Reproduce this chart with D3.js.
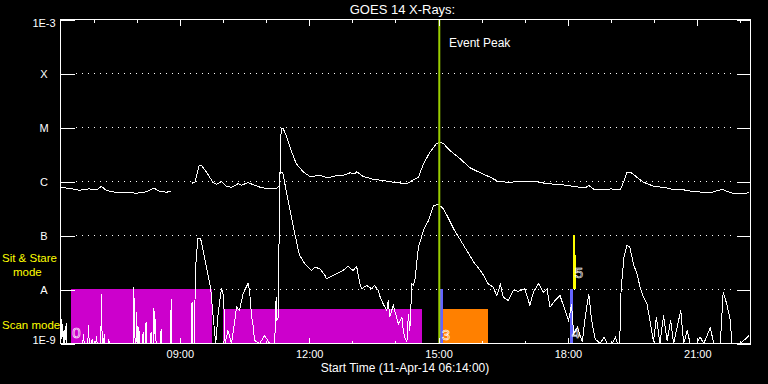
<!DOCTYPE html>
<html><head><meta charset="utf-8">
<script src="https://cdn.jsdelivr.net/npm/d3@7"></script>
<style>html,body{margin:0;padding:0;background:#000;}svg{display:block}</style>
</head><body>
<svg id="c" width="768" height="384"></svg>
<script>
// ---------- data ----------
const dateStr = "2014-04-11";
const startTime = "06:14", endTime = "22:14";
const eventPeakTime = "15:01";
const yTickValues = [1e-9, 1e-8, 1e-7, 1e-6, 1e-5, 1e-4, 1e-3];
const yTickLabels = ["1E-9", "A", "B", "C", "M", "X", "1E-3"];
const xLabelTimes = ["09:00", "12:00", "15:00", "18:00", "21:00"];

// GOES 14 long channel (1-8 A), W/m^2
const goesLong = [
 ["06:14",7.7e-7],["06:26",7.5e-7],["06:40",6.9e-7],["06:54",7.3e-7],["07:04",7.0e-7],["07:11",8.1e-7],
 ["07:18",6.8e-7],["07:32",6.25e-7],["07:46",6.25e-7],["08:00",6.07e-7],["08:13",6.44e-7],["08:24",7.5e-7],
 ["08:32",6.6e-7],["08:41",6.34e-7],["08:48",6.53e-7],["09:00",null],
 ["09:17",9.3e-7],["09:21",9.7e-7],["09:27",1.98e-6],["09:30",1.98e-6],["09:37",1.49e-6],["09:46",9.7e-7],
 ["09:51",8.8e-7],["09:58",1.0e-6],["10:05",8.1e-7],["10:12",7.8e-7],["10:21",9.1e-7],["10:26",8.5e-7],
 ["10:35",9.6e-7],["10:42",8.7e-7],["10:51",7.9e-7],["11:03",7.3e-7],["11:15",7.5e-7],["11:19",8.4e-7],
 ["11:21",9.46e-6],["11:24",9.46e-6],["11:28",7.1e-6],["11:35",3.75e-6],["11:42",2.13e-6],["11:52",1.49e-6],
 ["12:01",1.24e-6],["12:15",1.29e-6],["12:26",1.17e-6],["12:38",1.29e-6],["12:47",1.29e-6],["12:57",1.45e-6],
 ["13:04",1.39e-6],["13:06",1.53e-6],["13:15",1.24e-6],["13:29",1.10e-6],["13:43",1.04e-6],["13:57",9.7e-7],
 ["14:16",9.1e-7],["14:25",1.07e-6],["14:32",1.20e-6],["14:39",2.13e-6],["14:48",3.49e-6],["14:57",4.99e-6],
 ["15:02",5.34e-6],["15:07",4.99e-6],["15:16",3.75e-6],["15:30",2.63e-6],["15:44",1.79e-6],["15:58",1.45e-6],
 ["16:12",1.20e-6],["16:23",1.0e-6],["16:40",9.6e-7],["16:49",1.01e-6],["17:03",9.9e-7],["17:17",9.9e-7],
 ["17:31",9.1e-7],["17:49",8.8e-7],["18:08",8.1e-7],["18:24",7.6e-7],["18:29",8.4e-7],["18:36",7.2e-7],
 ["18:54",7.0e-7],["18:59",7.3e-7],["19:13",7.0e-7],["19:20",1.20e-6],["19:22",1.49e-6],["19:27",1.49e-6],
 ["19:36",1.20e-6],["19:45",9.7e-7],["19:59",8.2e-7],["20:18",7.6e-7],["20:25",7.2e-7],["20:41",7.0e-7],
 ["20:55",6.5e-7],["21:18",6.2e-7],["21:35",7.2e-7],["21:41",6.6e-7],["21:51",5.9e-7],["22:07",5.9e-7],
 ["22:12",6.4e-7]
];

// GOES 14 short channel (0.5-4 A), W/m^2
const goesShort = [
 ["06:14",1.5e-9],["06:15",2.9e-9],["06:16",1.2e-9],["06:17",2.3e-9],["06:18",1e-9],["06:19",1.8e-9],["06:20",1e-9],
 ["06:22",2.4e-9],["06:23",1e-9],["06:45",1e-9],["06:46",1.5e-9],["06:47",1e-9],["06:52",1e-9],["06:53",2.2e-9],
 ["06:54",1e-9],["06:57",1e-9],["06:58",1.2e-9],["06:59",1e-9],["07:03",1e-9],["07:04",1.35e-9],["07:05",1e-9],
 ["07:10",1e-9],["07:11",8.2e-9],["07:12",1e-9],["07:14",1e-9],["07:15",1.5e-9],["07:16",1e-9],["07:20",1e-9],
 ["07:21",1.2e-9],["07:22",1e-9],["07:55",1e-9],["07:56",1.12e-8],["07:57",2e-9],["07:58",1e-9],["07:59",1e-9],
 ["08:00",3.75e-9],["08:01",1e-9],["08:02",1e-9],["08:03",2e-9],["08:04",1e-9],["08:08",1e-9],["08:09",1.65e-9],
 ["08:10",1e-9],["08:12",1e-9],["08:13",2.45e-9],["08:14",1e-9],["08:19",1e-9],["08:20",1.65e-9],["08:21",1e-9],
 ["08:23",1e-9],["08:24",4.45e-9],["08:25",1.5e-9],["08:26",2.8e-9],["08:27",1e-9],["08:33",1e-9],["08:34",1.84e-9],
 ["08:35",1e-9],["08:47",1e-9],["08:48",6.6e-9],["08:49",1e-9],["09:00",null],
 ["09:16",1e-9],["09:17",5.9e-9],["09:18",1e-9],["09:20",1e-9],["09:22",2.6e-8],["09:25",8.7e-8],["09:29",8.7e-8],
 ["09:32",5.7e-8],["09:37",2.6e-8],["09:43",1.03e-8],["09:46",3.55e-9],["09:50",1e-9],["09:53",3.3e-9],["09:58",1.07e-8],
 ["10:01",7.2e-9],["10:03",1e-9],["10:07",1.74e-9],["10:12",1e-9],["10:19",4.7e-9],["10:23",4.1e-9],["10:28",8.3e-9],
 ["10:35",1.31e-8],["10:37",9.6e-9],["10:40",3.07e-9],["10:42",2.15e-9],["10:44",1.14e-9],["10:51",1e-9],["10:58",1.4e-9],
 ["11:05",1e-9],["11:12",1e-9],["11:14",7.2e-9],["11:15",2.66e-9],["11:17",3.0e-9],["11:19",1.49e-6],["11:23",1.49e-6],
 ["11:28",6.8e-7],["11:38",1.43e-7],["11:45",5.3e-8],["11:47",4.26e-8],["11:54",2.99e-8],["12:03",2.25e-8],["12:08",2.59e-8],
 ["12:15",2.42e-8],["12:22",1.82e-8],["12:24",1.58e-8],["12:33",1.82e-8],["12:38",1.95e-8],["12:47",2.25e-8],["12:54",2.67e-8],
 ["13:01",2.25e-8],["13:06",2.67e-8],["13:11",1.19e-8],["13:13",1.03e-8],["13:20",1.19e-8],["13:27",1.03e-8],["13:31",1.19e-8],
 ["13:36",9.6e-9],["13:38",7.7e-9],["13:43",5.4e-9],["13:48",4.1e-9],["13:50",6.25e-9],["13:52",3.07e-9],["13:57",5.1e-9],
 ["13:59",4.1e-9],["14:04",2.3e-9],["14:09",3.07e-9],["14:11",1.74e-9],["14:13",1.31e-9],["14:16",1.06e-9],["14:18",3.55e-9],
 ["14:20",1.74e-9],["14:23",1.28e-8],["14:25",1.19e-8],["14:27",1.47e-8],["14:32",6.07e-8],["14:39",1.24e-7],["14:46",1.9e-7],
 ["14:53",3.6e-7],["15:00",3.75e-7],["15:07",3.12e-7],["15:21",1.33e-7],["15:35",6.53e-8],["15:49",3.2e-8],["16:00",2.09e-8],
 ["16:09",1.28e-8],["16:16",1.1e-8],["16:21",7.7e-9],["16:26",1.24e-8],["16:30",7.2e-9],["16:37",6.25e-9],["16:44",9.6e-9],
 ["16:51",9.3e-9],["17:00",1.03e-8],["17:07",5.1e-9],["17:12",8.9e-9],["17:19",1.28e-8],["17:26",8.9e-9],["17:31",1.03e-8],
 ["17:35",4.7e-9],["17:42",6.25e-9],["17:49",7.7e-9],["17:56",4.1e-9],["18:01",2.67e-9],["18:05",5.4e-9],["18:08",1.51e-9],
 ["18:13",2.0e-9],["18:20",1.06e-9],["18:24",3.07e-9],["18:29",8.3e-9],["18:33",2.67e-9],["18:38",1.2e-9],["18:45",1e-9],
 ["18:50",1.31e-9],["18:55",1e-9],["19:02",1e-9],["19:06",1.31e-9],["19:09",1e-9],["19:12",1e-9],["19:14",1.03e-8],
 ["19:18",3.96e-8],["19:22",6.53e-8],["19:26",6.25e-8],["19:31",2.99e-8],["19:36",1.95e-8],["19:41",1.03e-8],["19:45",7.2e-9],
 ["19:50",5.4e-9],["19:55",2.3e-9],["19:59",1.06e-9],["20:03",3.07e-9],["20:08",1e-9],["20:13",3.3e-9],["20:18",1.14e-9],
 ["20:23",2.67e-9],["20:27",1e-9],["20:37",4.1e-9],["20:41",1e-9],["20:46",1.74e-9],["20:50",1e-9],["20:59",1e-9],
 ["21:04",1.31e-9],["21:09",1e-9],["21:18",1.95e-9],["21:23",1e-9],["21:32",1e-9],["21:36",8.9e-9],["21:41",5.4e-9],
 ["21:46",2.67e-9],["21:48",1e-9],["22:00",1e-9],["22:12",1.4e-9]
];

// observing-mode blocks
const modeStart = ["06:29", "10:01", "15:03", "15:07", "18:04", "18:08", "18:11"];
const modeEnd   = ["09:45", "14:38", "15:07", "16:10", "18:08", "18:11", "18:12"];
const modeLow   = [1e-9, 1e-9, 1e-9, 1e-9, 1e-9, 1e-8, 1e-8];
const modeHigh  = [1e-8, 4.2e-9, 1e-8, 4.2e-9, 1e-8, 1e-7, 4.2e-8];
const modeColor = ["#cc00cc", "#cc00cc", "#6464ff", "#ff8000", "#6464ff", "#ffff00", "#ffff00"];
const modeLabel = ["0", "", "3", "", "4", "5", ""];
const modeLabelFlux = [1.24e-9, null, 1.16e-9, null, 1.24e-9, 1.63e-8, null];

// ---------- drawing ----------
const FONT = "'Liberation Sans', Arial, sans-serif";
const svg = d3.select("#c");
svg.append("rect").attr("width", 768).attr("height", 384).attr("fill", "#000");

const parse = t => new Date(`${dateStr}T${t}:00Z`);
const x = d3.scaleUtc().domain([parse(startTime), parse(endTime)]).range([60.5, 750.5]);
const y = d3.scaleLog().domain([1e-9, 1e-3]).range([343.5, 19.5]).clamp(true);

// dotted grid
svg.append("g").selectAll("line")
  .data(yTickValues.slice(1, -1)).join("line")
  .attr("x1", 76).attr("x2", 735)
  .attr("y1", d => y(d)).attr("y2", d => y(d))
  .attr("stroke", "#fff").attr("stroke-width", 1)
  .attr("stroke-dasharray", "1 5").attr("shape-rendering", "crispEdges");

// mode blocks
const modes = modeStart.map((s, i) => ({
  s: parse(s), e: parse(modeEnd[i]), lo: modeLow[i], hi: modeHigh[i],
  c: modeColor[i], lab: modeLabel[i], lf: modeLabelFlux[i]
}));
svg.append("g").selectAll("rect").data(modes).join("rect")
  .attr("x", d => x(d.s) - 0.5).attr("width", d => x(d.e) - x(d.s))
  .attr("y", d => y(d.hi) - 0.5).attr("height", d => y(d.lo) - y(d.hi))
  .attr("fill", d => d.c).attr("shape-rendering", "crispEdges");

// curves
const line = d3.line()
  .defined(d => d[1] != null)
  .x(d => x(parse(d[0])))
  .y(d => y(d[1]));
[goesLong, goesShort].forEach(series => {
  svg.append("path").datum(series)
    .attr("d", line).attr("fill", "none")
    .attr("stroke", "#fff").attr("stroke-width", 1)
    .attr("shape-rendering", "crispEdges");
});

// mode numbers
svg.append("g").selectAll("text").data(modes.filter(d => d.lab)).join("text")
  .attr("x", d => x(d.s) + 1).attr("y", d => y(d.lf))
  .attr("font-family", FONT).attr("font-size", 15)
  .attr("fill", "none").attr("stroke", "#fff").attr("stroke-width", 0.6)
  .text(d => d.lab);

// event peak line
svg.append("line")
  .attr("x1", x(parse(eventPeakTime))).attr("x2", x(parse(eventPeakTime)))
  .attr("y1", 19.5).attr("y2", 343.5)
  .attr("stroke", "#9acd00").attr("stroke-width", 2);
svg.append("text").attr("x", 449).attr("y", 47)
  .attr("font-family", FONT).attr("font-size", 12).attr("fill", "#fff")
  .text("Event Peak");

// frame
svg.append("rect").attr("x", 60.5).attr("y", 19.5).attr("width", 690).attr("height", 324)
  .attr("fill", "none").attr("stroke", "#fff").attr("shape-rendering", "crispEdges");

function styleAxis(g) {
  g.attr("color", "#fff").attr("font-family", FONT);
  g.select(".domain").remove();
  g.selectAll("line").attr("shape-rendering", "crispEdges");
}
// x ticks (top & bottom, inward)
svg.append("g").attr("transform", "translate(0,19.5)")
  .call(d3.axisBottom(x).ticks(d3.utcHour.every(1)).tickSize(3).tickFormat("")).call(styleAxis);
svg.append("g").attr("transform", "translate(0,19.5)")
  .call(d3.axisBottom(x).ticks(d3.utcHour.every(3)).tickSize(6).tickFormat("")).call(styleAxis);
svg.append("g").attr("transform", "translate(0,343.5)")
  .call(d3.axisTop(x).ticks(d3.utcHour.every(1)).tickSize(3).tickFormat("")).call(styleAxis);
svg.append("g").attr("transform", "translate(0,343.5)")
  .call(d3.axisTop(x).ticks(d3.utcHour.every(3)).tickSize(6).tickFormat("")).call(styleAxis);
// x labels
const gx = svg.append("g").attr("transform", "translate(0,343.5)")
  .call(d3.axisBottom(x).tickValues(xLabelTimes.map(parse)).tickSize(0).tickPadding(7)
    .tickFormat(d3.utcFormat("%H:%M"))).call(styleAxis);
gx.selectAll("text").attr("font-size", 11);

// y axis left
const gy = svg.append("g").attr("transform", "translate(60.5,0)")
  .call(d3.axisLeft(y).tickValues(yTickValues).tickSize(-14)
    .tickFormat((d, i) => yTickLabels[i])).call(styleAxis);
gy.selectAll("text").attr("x", -16.5).attr("text-anchor", "middle").attr("font-size", 11)
  .attr("dy", (d, i) => i === 0 ? "0em" : (i === yTickValues.length - 1 ? "0.68em" : "0.34em"));
// y axis right
svg.append("g").attr("transform", "translate(750.5,0)")
  .call(d3.axisRight(y).tickValues(yTickValues).tickSize(-14).tickFormat("")).call(styleAxis);

// titles
svg.append("text").attr("x", 402.5).attr("y", 14).attr("text-anchor", "middle")
  .attr("font-family", FONT).attr("font-size", 13).attr("fill", "#fff")
  .text("GOES 14 X-Rays:");
svg.append("text").attr("x", 405).attr("y", 372).attr("text-anchor", "middle")
  .attr("font-family", FONT).attr("font-size", 12).attr("fill", "#fff")
  .text("Start Time (11-Apr-14 06:14:00)");

// mode legend (yellow)
const leg = svg.append("g").attr("font-family", FONT).attr("font-size", 11.5).attr("fill", "#ffff00");
leg.append("text").attr("x", 2).attr("y", 262).text("Sit & Stare");
leg.append("text").attr("x", 13).attr("y", 276).text("mode");
leg.append("text").attr("x", 2).attr("y", 328.5).text("Scan mode");
</script>
</body></html>
